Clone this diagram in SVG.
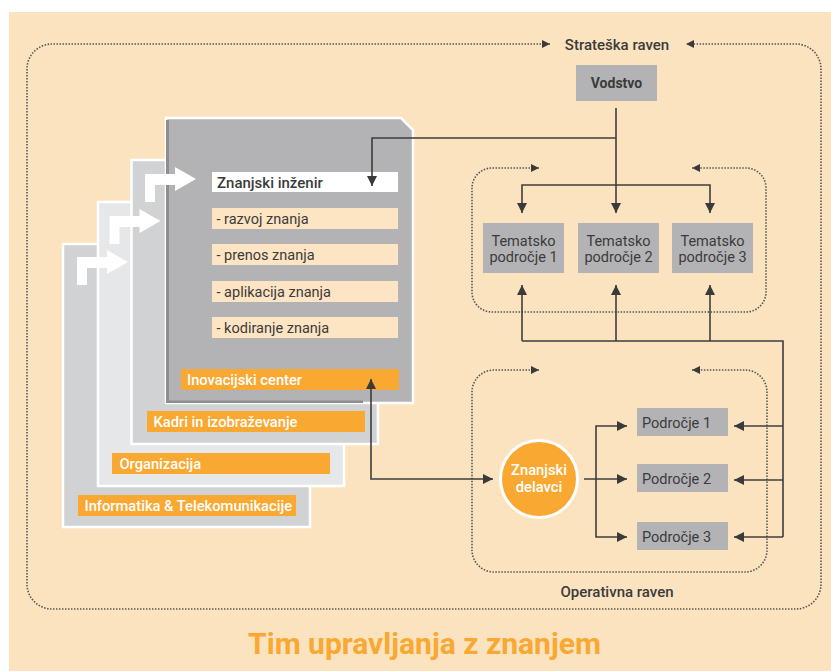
<svg xmlns="http://www.w3.org/2000/svg" width="831" height="671" viewBox="0 0 831 671">
  <style>
    .txt { font-family: Roboto, "Liberation Sans", Arial, sans-serif; fill: #3b3b3b; }
    .reg { font-weight: 400; font-size: 14.5px; }
    .med { font-weight: 500; font-size: 15px; }
    .bold { font-weight: 700; }
    .wt { fill: #ffffff; font-weight: 500; font-size: 14.7px; }
    .gbox { fill: #b3b3b5; }
    .obox { fill: #f9a832; }
    .pbox { fill: #fde4c3; }
    .page { stroke: #ffffff; stroke-width: 2.5; }
    .conn { fill: none; stroke: #3e3e3e; stroke-width: 1.6; }
    .dot { fill: none; stroke: #555555; stroke-width: 1.6; stroke-dasharray: 1.5 1.5; }
    .warrow { fill: #ffffff; }
  </style>
  <defs>
    <marker id="ah" viewBox="0 0 10 10" refX="10" refY="5" markerWidth="10" markerHeight="10" markerUnits="userSpaceOnUse" orient="auto-start-reverse">
      <path d="M0,0 L10,5 L0,10 z" fill="#3a3a3a"/>
    </marker>
    <marker id="dh" viewBox="0 0 8 8" refX="8" refY="4" markerWidth="8" markerHeight="8" markerUnits="userSpaceOnUse" orient="auto-start-reverse">
      <path d="M0,0 L8,4 L0,8 z" fill="#3a3a3a"/>
    </marker>
  </defs>

  <!-- background panel -->
  <rect x="9" y="12" width="822" height="659" fill="#fce3c0"/>

  <!-- level frames (dotted) -->
  <g id="levels">
    <path class="dot" marker-start="url(#dh)" marker-end="url(#dh)" d="M550,44 L52,44 A25,25 0 0 0 27,69 L27,584 A25,25 0 0 0 52,609 L796,609 A25,25 0 0 0 821,584 L821,69 A25,25 0 0 0 796,44 L686,44"/>
    <path class="dot" marker-start="url(#dh)" marker-end="url(#dh)" d="M539,168 L492,168 A20,20 0 0 0 472,188 L472,292 A20,20 0 0 0 492,312 L746,312 A20,20 0 0 0 766,292 L766,188 A20,20 0 0 0 746,168 L692,168"/>
    <path class="dot" marker-start="url(#dh)" marker-end="url(#dh)" d="M539,370 L494,370 A22,22 0 0 0 472,392 L472,550 A22,22 0 0 0 494,572 L745,572 A22,22 0 0 0 767,550 L767,392 A22,22 0 0 0 745,370 L692,370"/>
    <text class="txt med" x="617" y="49.5" text-anchor="middle">Strateška raven</text>
    <text class="txt med" x="617" y="597" text-anchor="middle">Operativna raven</text>
  </g>

  <!-- stacked department pages -->
  <g id="page-informatika">
    <rect class="page" x="63" y="244" width="247" height="283" fill="#d1d2d4"/>
    <rect class="obox" x="78" y="495" width="218" height="21"/>
    <text class="txt wt" x="84.5" y="511">Informatika &amp; Telekomunikacije</text>
  </g>
  <g id="page-organizacija">
    <rect class="page" x="98" y="202" width="246" height="284" fill="#e6e7e8"/>
    <rect class="obox" x="112" y="453" width="218" height="21"/>
    <text class="txt wt" x="119.5" y="469">Organizacija</text>
  </g>
  <g id="page-kadri">
    <rect class="page" x="131.5" y="160" width="246.5" height="284" fill="#d1d2d4"/>
    <rect class="obox" x="147" y="411" width="218" height="21"/>
    <text class="txt wt" x="153.5" y="427">Kadri in izobraževanje</text>
  </g>
  <g id="page-inovacijski">
    <path class="page" d="M166,118 L401,118 L413,130 L413,403 L166,403 Z" fill="#b3b3b5"/>
    <rect x="166" y="120" width="3" height="283" fill="#8e8e90"/>
    <rect x="166" y="400.5" width="197" height="2.5" fill="#8e8e90"/>
    <rect x="212" y="172" width="186" height="20" fill="#ffffff"/>
    <text class="txt med" x="217" y="187.5" font-size="14.8">Znanjski inženir</text>
    <rect class="pbox" x="212" y="208" width="186" height="21"/>
    <text class="txt reg" x="216.5" y="223.5">- razvoj znanja</text>
    <rect class="pbox" x="212" y="244" width="186" height="21"/>
    <text class="txt reg" x="216.5" y="260">- prenos znanja</text>
    <rect class="pbox" x="212" y="281" width="186" height="21"/>
    <text class="txt reg" x="216.5" y="296.5">- aplikacija znanja</text>
    <rect class="pbox" x="212" y="317" width="186" height="21"/>
    <text class="txt reg" x="216.5" y="333">- kodiranje znanja</text>
    <rect class="obox" x="181" y="369" width="218" height="21"/>
    <text class="txt wt" x="187" y="385">Inovacijski center</text>
  </g>

  <!-- white step arrows between pages -->
  <g id="step-arrows">
    <path class="warrow" d="M77,285 L77,257 L107,257 L107,250 L128,262 L107,274 L107,268 L87,268 L87,285 Z"/>
    <path class="warrow" d="M109.5,244 L109.5,216 L139.5,216 L139.5,209 L160.5,221 L139.5,233 L139.5,227 L119.5,227 L119.5,244 Z"/>
    <path class="warrow" d="M145,202 L145,174 L175,174 L175,167 L196,179 L175,191 L175,185 L155,185 L155,202 Z"/>
  </g>

  <!-- strategic level nodes -->
  <g id="vodstvo">
    <rect class="gbox" x="576" y="65" width="81" height="36"/>
    <text class="txt bold" x="616.5" y="88" font-size="14" text-anchor="middle">Vodstvo</text>
  </g>
  <g id="tematsko-1">
    <rect class="gbox" x="483" y="223" width="81" height="50"/>
    <text class="txt reg" x="523.5" y="245.5" text-anchor="middle">Tematsko</text>
    <text class="txt reg" x="523.5" y="262" text-anchor="middle">področje 1</text>
  </g>
  <g id="tematsko-2">
    <rect class="gbox" x="578" y="223" width="81" height="50"/>
    <text class="txt reg" x="618.5" y="245.5" text-anchor="middle">Tematsko</text>
    <text class="txt reg" x="618.5" y="262" text-anchor="middle">področje 2</text>
  </g>
  <g id="tematsko-3">
    <rect class="gbox" x="672" y="223" width="81" height="50"/>
    <text class="txt reg" x="712.5" y="245.5" text-anchor="middle">Tematsko</text>
    <text class="txt reg" x="712.5" y="262" text-anchor="middle">področje 3</text>
  </g>

  <!-- operational level nodes -->
  <g id="znanjski-delavci">
    <circle cx="539" cy="479" r="38.5" fill="#f9a832" stroke="#ffffff" stroke-width="3"/>
    <text class="txt wt" x="539" y="475" font-size="14.5" text-anchor="middle">Znanjski</text>
    <text class="txt wt" x="539" y="492" font-size="14.5" text-anchor="middle">delavci</text>
  </g>
  <g id="podrocje-1">
    <rect class="gbox" x="637" y="408" width="91" height="28"/>
    <text class="txt reg" x="642" y="428">Področje 1</text>
  </g>
  <g id="podrocje-2">
    <rect class="gbox" x="637" y="464" width="91" height="28"/>
    <text class="txt reg" x="642" y="484">Področje 2</text>
  </g>
  <g id="podrocje-3">
    <rect class="gbox" x="637" y="522" width="91" height="28"/>
    <text class="txt reg" x="642" y="542">Področje 3</text>
  </g>

  <!-- connectors -->
  <g id="connectors">
    <path class="conn" marker-end="url(#ah)" d="M616,108 L616,213"/>
    <path class="conn" marker-end="url(#ah)" d="M616,138 L372,138 L372,186"/>
    <path class="conn" marker-start="url(#ah)" marker-end="url(#ah)" d="M522,213 L522,185 L710,185 L710,213"/>
    <path class="conn" marker-end="url(#ah)" d="M522,341 L522,285"/>
    <path class="conn" marker-end="url(#ah)" d="M616,341 L616,285"/>
    <path class="conn" marker-end="url(#ah)" d="M710,341 L710,285"/>
    <path class="conn" d="M522,341 L783,341 L783,537"/>
    <path class="conn" marker-end="url(#ah)" d="M783,426 L734,426"/>
    <path class="conn" marker-end="url(#ah)" d="M783,480 L734,480"/>
    <path class="conn" marker-end="url(#ah)" d="M783,537 L734,537"/>
    <path class="conn" marker-start="url(#ah)" marker-end="url(#ah)" d="M371,379 L371,479 L493,479"/>
    <path class="conn" marker-end="url(#ah)" d="M584,479 L627,479"/>
    <path class="conn" marker-start="url(#ah)" marker-end="url(#ah)" d="M627,426 L596,426 L596,537 L627,537"/>
  </g>

  <!-- title -->
  <text x="424.5" y="654" font-family="Roboto, 'Liberation Sans', Arial, sans-serif" font-weight="700" font-size="30" fill="#f9a832" text-anchor="middle">Tim upravljanja z znanjem</text>
</svg>
